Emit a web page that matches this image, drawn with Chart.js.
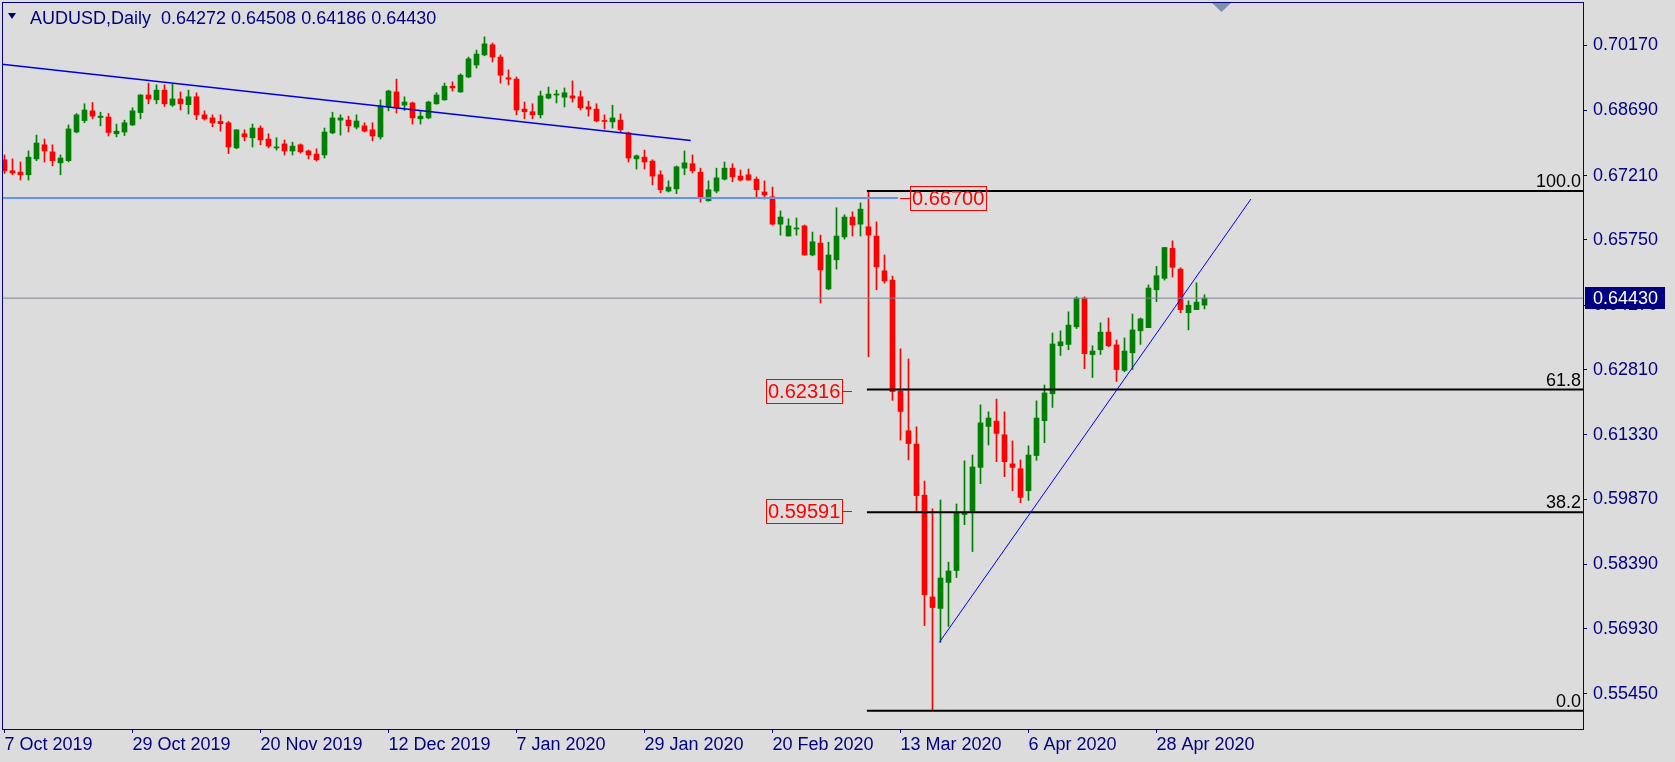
<!DOCTYPE html>
<html>
<head>
<meta charset="utf-8">
<title>AUDUSD, Daily</title>
<script src="https://cdn.jsdelivr.net/npm/chart.js@4.4.1/dist/chart.umd.min.js"></script>
<style>
  html, body { margin: 0; padding: 0; background: #dcdcdc; overflow: hidden; }
  canvas { display: block; }
</style>
</head>
<body>
<canvas id="chart" width="1675" height="762"></canvas>
<script>
const symbolTitle = 'AUDUSD,Daily';

// daily candles, first bar = 7 Oct 2019, rows are [open, high, low, close]
const candles = [
  [0.6757, 0.6768, 0.6726, 0.6732], [0.6732, 0.6759, 0.6723, 0.6727], [0.6729, 0.6752, 0.6711, 0.6723],
  [0.6723, 0.6777, 0.6711, 0.6763], [0.6759, 0.6813, 0.6755, 0.6795], [0.6791, 0.6804, 0.6752, 0.6777],
  [0.6775, 0.6791, 0.6743, 0.6755], [0.6750, 0.6768, 0.6723, 0.6761], [0.6755, 0.6836, 0.6752, 0.6827],
  [0.6820, 0.6862, 0.6818, 0.6859], [0.6846, 0.6884, 0.6841, 0.6870], [0.6868, 0.6887, 0.6850, 0.6856],
  [0.6853, 0.6865, 0.6834, 0.6856], [0.6854, 0.6862, 0.6811, 0.6819], [0.6816, 0.6838, 0.6809, 0.6822],
  [0.6820, 0.6847, 0.6812, 0.6841], [0.6836, 0.6875, 0.6835, 0.6868], [0.6864, 0.6905, 0.6850, 0.6904],
  [0.6904, 0.6931, 0.6884, 0.6895], [0.6893, 0.6927, 0.6884, 0.6915], [0.6915, 0.6927, 0.6878, 0.6884],
  [0.6881, 0.6929, 0.6878, 0.6895], [0.6895, 0.6911, 0.6870, 0.6884], [0.6882, 0.6915, 0.6861, 0.6900],
  [0.6900, 0.6909, 0.6848, 0.6859], [0.6859, 0.6868, 0.6847, 0.6850], [0.6852, 0.6859, 0.6832, 0.6841],
  [0.6844, 0.6859, 0.6822, 0.6839], [0.6841, 0.6844, 0.6771, 0.6786], [0.6784, 0.6825, 0.6782, 0.6825],
  [0.6816, 0.6825, 0.6800, 0.6809], [0.6807, 0.6838, 0.6786, 0.6829], [0.6829, 0.6834, 0.6791, 0.6802],
  [0.6804, 0.6816, 0.6784, 0.6788], [0.6784, 0.6807, 0.6779, 0.6786], [0.6793, 0.6802, 0.6768, 0.6777],
  [0.6777, 0.6797, 0.6768, 0.6788], [0.6791, 0.6793, 0.6772, 0.6775], [0.6777, 0.6779, 0.6759, 0.6768],
  [0.6770, 0.6782, 0.6754, 0.6757], [0.6768, 0.6829, 0.6761, 0.6820], [0.6818, 0.6865, 0.6816, 0.6852],
  [0.6847, 0.6859, 0.6813, 0.6852], [0.6847, 0.6856, 0.6820, 0.6834], [0.6831, 0.6859, 0.6827, 0.6845],
  [0.6834, 0.6841, 0.6820, 0.6822], [0.6825, 0.6841, 0.6800, 0.6811], [0.6809, 0.6893, 0.6804, 0.6879],
  [0.6877, 0.6915, 0.6868, 0.6913], [0.6911, 0.6940, 0.6863, 0.6875], [0.6881, 0.6900, 0.6869, 0.6888],
  [0.6886, 0.6888, 0.6838, 0.6852], [0.6850, 0.6868, 0.6838, 0.6856], [0.6852, 0.6890, 0.6850, 0.6888],
  [0.6884, 0.6909, 0.6883, 0.6904], [0.6893, 0.6931, 0.6892, 0.6924], [0.6924, 0.6934, 0.6913, 0.6920],
  [0.6911, 0.6952, 0.6910, 0.6949], [0.6945, 0.6990, 0.6943, 0.6986], [0.6972, 0.7006, 0.6965, 0.6997],
  [0.6995, 0.7036, 0.6993, 0.7020], [0.7018, 0.7022, 0.6979, 0.6990], [0.6990, 0.6995, 0.6931, 0.6949],
  [0.6943, 0.6961, 0.6927, 0.6940], [0.6940, 0.6945, 0.6859, 0.6870], [0.6872, 0.6888, 0.6850, 0.6866],
  [0.6866, 0.6884, 0.6850, 0.6859], [0.6859, 0.6913, 0.6852, 0.6902], [0.6897, 0.6922, 0.6895, 0.6906],
  [0.6904, 0.6915, 0.6886, 0.6906], [0.6899, 0.6920, 0.6877, 0.6909], [0.6902, 0.6936, 0.6888, 0.6897],
  [0.6900, 0.6913, 0.6870, 0.6875], [0.6877, 0.6890, 0.6856, 0.6872], [0.6872, 0.6884, 0.6843, 0.6845],
  [0.6845, 0.6859, 0.6827, 0.6844], [0.6843, 0.6881, 0.6829, 0.6852], [0.6847, 0.6861, 0.6820, 0.6825],
  [0.6818, 0.6820, 0.6752, 0.6761], [0.6759, 0.6768, 0.6736, 0.6766], [0.6763, 0.6779, 0.6736, 0.6752],
  [0.6754, 0.6757, 0.6700, 0.6720], [0.6723, 0.6732, 0.6682, 0.6689], [0.6686, 0.6709, 0.6684, 0.6695],
  [0.6691, 0.6743, 0.6680, 0.6741], [0.6738, 0.6777, 0.6723, 0.6750], [0.6748, 0.6768, 0.6727, 0.6732],
  [0.6729, 0.6738, 0.6661, 0.6673], [0.6664, 0.6709, 0.6663, 0.6689], [0.6686, 0.6738, 0.6682, 0.6716],
  [0.6713, 0.6752, 0.6711, 0.6738], [0.6738, 0.6748, 0.6707, 0.6718], [0.6720, 0.6734, 0.6709, 0.6711],
  [0.6723, 0.6736, 0.6711, 0.6711], [0.6713, 0.6718, 0.6673, 0.6689], [0.6684, 0.6709, 0.6668, 0.6677],
  [0.6673, 0.6695, 0.6609, 0.6611], [0.6611, 0.6641, 0.6586, 0.6627], [0.6584, 0.6623, 0.6584, 0.6607],
  [0.6600, 0.6625, 0.6586, 0.6602], [0.6607, 0.6609, 0.6541, 0.6541], [0.6541, 0.6593, 0.6539, 0.6571],
  [0.6568, 0.6586, 0.6432, 0.6507], [0.6464, 0.6570, 0.6462, 0.6541], [0.6530, 0.6648, 0.6509, 0.6584],
  [0.6582, 0.6632, 0.6577, 0.6627], [0.6627, 0.6639, 0.6584, 0.6609], [0.6611, 0.6659, 0.6584, 0.6645],
  [0.6605, 0.6686, 0.6310, 0.6586], [0.6584, 0.6616, 0.6462, 0.6514], [0.6505, 0.6541, 0.6477, 0.6482],
  [0.6484, 0.6493, 0.6211, 0.6231], [0.6232, 0.6328, 0.6121, 0.6186], [0.6142, 0.6305, 0.6076, 0.6113],
  [0.6112, 0.6151, 0.5959, 0.5995], [0.5996, 0.6028, 0.5700, 0.5770], [0.5765, 0.5965, 0.5507, 0.5741],
  [0.5739, 0.5985, 0.5662, 0.5808], [0.5798, 0.5844, 0.5698, 0.5824], [0.5825, 0.5976, 0.5809, 0.5956],
  [0.5952, 0.6074, 0.5929, 0.5957], [0.5959, 0.6087, 0.5868, 0.6060], [0.6059, 0.6201, 0.6022, 0.6160],
  [0.6152, 0.6185, 0.6110, 0.6171], [0.6164, 0.6214, 0.6072, 0.6136], [0.6133, 0.6185, 0.6038, 0.6072],
  [0.6067, 0.6119, 0.6006, 0.6059], [0.6056, 0.6076, 0.5979, 0.5991], [0.6006, 0.6108, 0.5984, 0.6087],
  [0.6086, 0.6210, 0.6075, 0.6171], [0.6165, 0.6246, 0.6115, 0.6228], [0.6226, 0.6364, 0.6195, 0.6339],
  [0.6335, 0.6369, 0.6313, 0.6344], [0.6338, 0.6412, 0.6326, 0.6382], [0.6378, 0.6446, 0.6374, 0.6443],
  [0.6443, 0.6446, 0.6283, 0.6317], [0.6315, 0.6335, 0.6263, 0.6323], [0.6326, 0.6387, 0.6315, 0.6366],
  [0.6366, 0.6398, 0.6333, 0.6335], [0.6337, 0.6348, 0.6254, 0.6281], [0.6279, 0.6353, 0.6276, 0.6323],
  [0.6319, 0.6407, 0.6281, 0.6371], [0.6369, 0.6398, 0.6338, 0.6396], [0.6376, 0.6473, 0.6376, 0.6466],
  [0.6462, 0.6515, 0.6435, 0.6494], [0.6488, 0.6558, 0.6484, 0.6558], [0.6556, 0.6573, 0.6491, 0.6513],
  [0.6509, 0.6512, 0.6410, 0.6417], [0.6410, 0.6437, 0.6371, 0.6427], [0.6417, 0.6478, 0.6417, 0.6434],
  [0.64272, 0.64508, 0.64186, 0.64430]
];

const tickBars = [0, 16, 32, 48, 64, 80, 96, 112, 128, 144];
const tickDates = ['7 Oct 2019', '29 Oct 2019', '20 Nov 2019', '12 Dec 2019', '7 Jan 2020',
                   '29 Jan 2020', '20 Feb 2020', '13 Mar 2020', '6 Apr 2020', '28 Apr 2020'];
const priceTicks = [0.55450, 0.56930, 0.58390, 0.59870, 0.61330, 0.62810,
                    0.64270, 0.65750, 0.67210, 0.68690, 0.70170];

const lastPrice = 0.64430;

// fibonacci retracement, from the 9 Mar high to the 19 Mar low
const fibHigh = 0.6686;
const fibLow = 0.5507;
const fibStartBar = 107.8;
const fibLevels = [100.0, 61.8, 38.2, 0.0];

// trend lines, [bar, price]
const trendDown = [[-0.3125, 0.6974], [85.78, 0.6801]];
const trendUp = [[116.85, 0.5662], [155.81, 0.6668]];
const levelLine = [[-0.3125, 0.6670], [111.7, 0.6670]];

const priceLabels = [
  { text: '0.66700', price: 0.66700, bar: 111.94, side: 'right' },
  { text: '0.62316', price: 0.62316, bar: 105.9, side: 'left' },
  { text: '0.59591', price: 0.59591, bar: 105.9, side: 'left' }
];

const xMin = -0.3125, xMax = 197.3125;
const yMin = 0.546538, yMax = 0.711503;

const bgColor = '#dcdcdc';
const axisColor = '#000080';
const frameColor = '#00008b';
const bullColor = '#008000';
const bearColor = '#ff0000';
const fontFamily = '"Liberation Sans", Arial, sans-serif';

const candleColors = candles.map(c => c[3] >= c[0] ? bullColor : bearColor);

function segment(points, color, width) {
    return {
        type: 'line',
        data: points.map(p => ({ x: p[0], y: p[1] })),
        borderColor: color,
        borderWidth: width,
        pointRadius: 0,
        fill: false,
        tension: 0,
        order: 0
    };
}

const lineSets = [
    segment([[xMin, lastPrice], [xMax, lastPrice]], '#7a8593', 1),
    segment(levelLine, '#6495ed', 2),
    segment(trendDown, '#0000dd', 1.5),
    segment(trendUp, '#0000ff', 1)
];
fibLevels.forEach(lvl => {
    const p = fibLow + (fibHigh - fibLow) * lvl / 100;
    lineSets.push(segment([[fibStartBar, p], [xMax, p]], '#000000', 2));
});

// keep the plot area fixed, whatever the tick labels want
function noPadding(scale) {
    scale.paddingTop = 0;
    scale.paddingBottom = 0;
    scale.paddingLeft = 0;
    scale.paddingRight = 0;
}

const chartDecor = {
    id: 'chartDecor',
    beforeDraw(chart) {
        const ctx = chart.ctx;
        ctx.save();
        ctx.fillStyle = bgColor;
        ctx.fillRect(0, 0, chart.width, chart.height);
        ctx.restore();
    },
    afterDraw(chart) {
        const { ctx, chartArea: a, scales: { x, y } } = chart;
        ctx.save();

        // frame
        ctx.strokeStyle = frameColor;
        ctx.lineWidth = 1;
        ctx.strokeRect(a.left + 0.5, a.top + 0.5, a.right - a.left, a.bottom - a.top);

        // header
        const last = candles[candles.length - 1];
        ctx.fillStyle = axisColor;
        ctx.beginPath();
        ctx.moveTo(8, 13); ctx.lineTo(16, 13); ctx.lineTo(12, 19);
        ctx.closePath();
        ctx.fill();
        ctx.font = '18px ' + fontFamily;
        ctx.textBaseline = 'alphabetic';
        ctx.textAlign = 'left';
        ctx.fillText(symbolTitle, 30, 24);
        ctx.fillText(last.map(v => v.toFixed(5)).join(' '), 161, 24);

        // chart shift marker
        ctx.fillStyle = '#8090a8';
        ctx.beginPath();
        ctx.moveTo(1212, 3); ctx.lineTo(1231, 3); ctx.lineTo(1221.5, 12);
        ctx.closePath();
        ctx.fill();

        // fibo level captions
        ctx.fillStyle = '#000000';
        ctx.textAlign = 'right';
        fibLevels.forEach(lvl => {
            const p = fibLow + (fibHigh - fibLow) * lvl / 100;
            ctx.fillText(lvl.toFixed(1), a.right - 2, Math.round(y.getPixelForValue(p)) - 4);
        });

        // price labels
        ctx.font = '20px ' + fontFamily;
        ctx.textAlign = 'left';
        ctx.textBaseline = 'middle';
        ctx.strokeStyle = bearColor;
        ctx.fillStyle = bearColor;
        priceLabels.forEach(lb => {
            const py = Math.round(y.getPixelForValue(lb.price)) + 0.5;
            const bx = Math.round(x.getPixelForValue(lb.bar));
            const w = Math.ceil(ctx.measureText(lb.text).width) + 3;
            const tick = 10;
            const boxLeft = lb.side === 'right' ? bx + tick : bx - tick - w;
            ctx.beginPath();
            if (lb.side === 'right') { ctx.moveTo(bx, py); ctx.lineTo(bx + tick, py); }
            else { ctx.moveTo(bx - tick, py); ctx.lineTo(bx, py); }
            ctx.stroke();
            ctx.strokeRect(boxLeft + 0.5, py - 12, w, 24);
            ctx.fillText(lb.text, boxLeft + 2, py + 1);
        });

        // current price box on the axis
        const cy = Math.round(y.getPixelForValue(lastPrice));
        ctx.fillStyle = axisColor;
        ctx.fillRect(a.right + 2, cy - 11, 80, 22);
        ctx.fillStyle = '#ffffff';
        ctx.font = '18px ' + fontFamily;
        ctx.fillText(lastPrice.toFixed(5), a.right + 10, cy + 1);

        ctx.restore();
    }
};

const ctx = document.getElementById('chart').getContext('2d');
const chart = new Chart(ctx, {
    type: 'bar',
    data: {
        datasets: [
            ...lineSets,
            {
                label: 'bodies',
                data: candles.map((c, i) => ({ x: i, y: [c[0], c[3]] })),
                backgroundColor: candleColors,
                barThickness: 5,
                minBarLength: 1,
                grouped: false,
                order: 1
            },
            {
                label: 'wicks',
                data: candles.map((c, i) => ({ x: i, y: [c[2], c[1]] })),
                backgroundColor: candleColors,
                barThickness: 1,
                minBarLength: 1,
                grouped: false,
                order: 2
            }
        ]
    },
    options: {
        responsive: false,
        devicePixelRatio: 1,
        animation: false,
        events: [],
        layout: { padding: { left: 2, top: 2, right: 0, bottom: 0 } },
        plugins: {
            legend: { display: false },
            tooltip: { enabled: false }
        },
        scales: {
            x: {
                type: 'linear',
                min: xMin,
                max: xMax,
                offset: false,
                afterBuildTicks: scale => { scale.ticks = tickBars.map(v => ({ value: v })); },
                afterFit: scale => { scale.height = 33; noPadding(scale); },
                grid: { offset: false, drawOnChartArea: false, tickLength: 4, color: axisColor },
                border: { display: false },
                ticks: {
                    align: 'start',
                    autoSkip: false,
                    maxRotation: 0,
                    minRotation: 0,
                    padding: 1,
                    color: axisColor,
                    font: { family: fontFamily, size: 18 },
                    callback: v => tickDates[tickBars.indexOf(v)] || ''
                }
            },
            y: {
                type: 'linear',
                position: 'right',
                min: yMin,
                max: yMax,
                afterBuildTicks: scale => { scale.ticks = priceTicks.map(v => ({ value: v })); },
                afterFit: scale => { scale.width = 92; noPadding(scale); },
                grid: { drawOnChartArea: false, tickLength: 4, color: axisColor },
                border: { display: false },
                ticks: {
                    padding: 6,
                    color: axisColor,
                    font: { family: fontFamily, size: 18 },
                    callback: v => v.toFixed(5)
                }
            }
        }
    },
    plugins: [chartDecor]
});
</script>
</body>
</html>
